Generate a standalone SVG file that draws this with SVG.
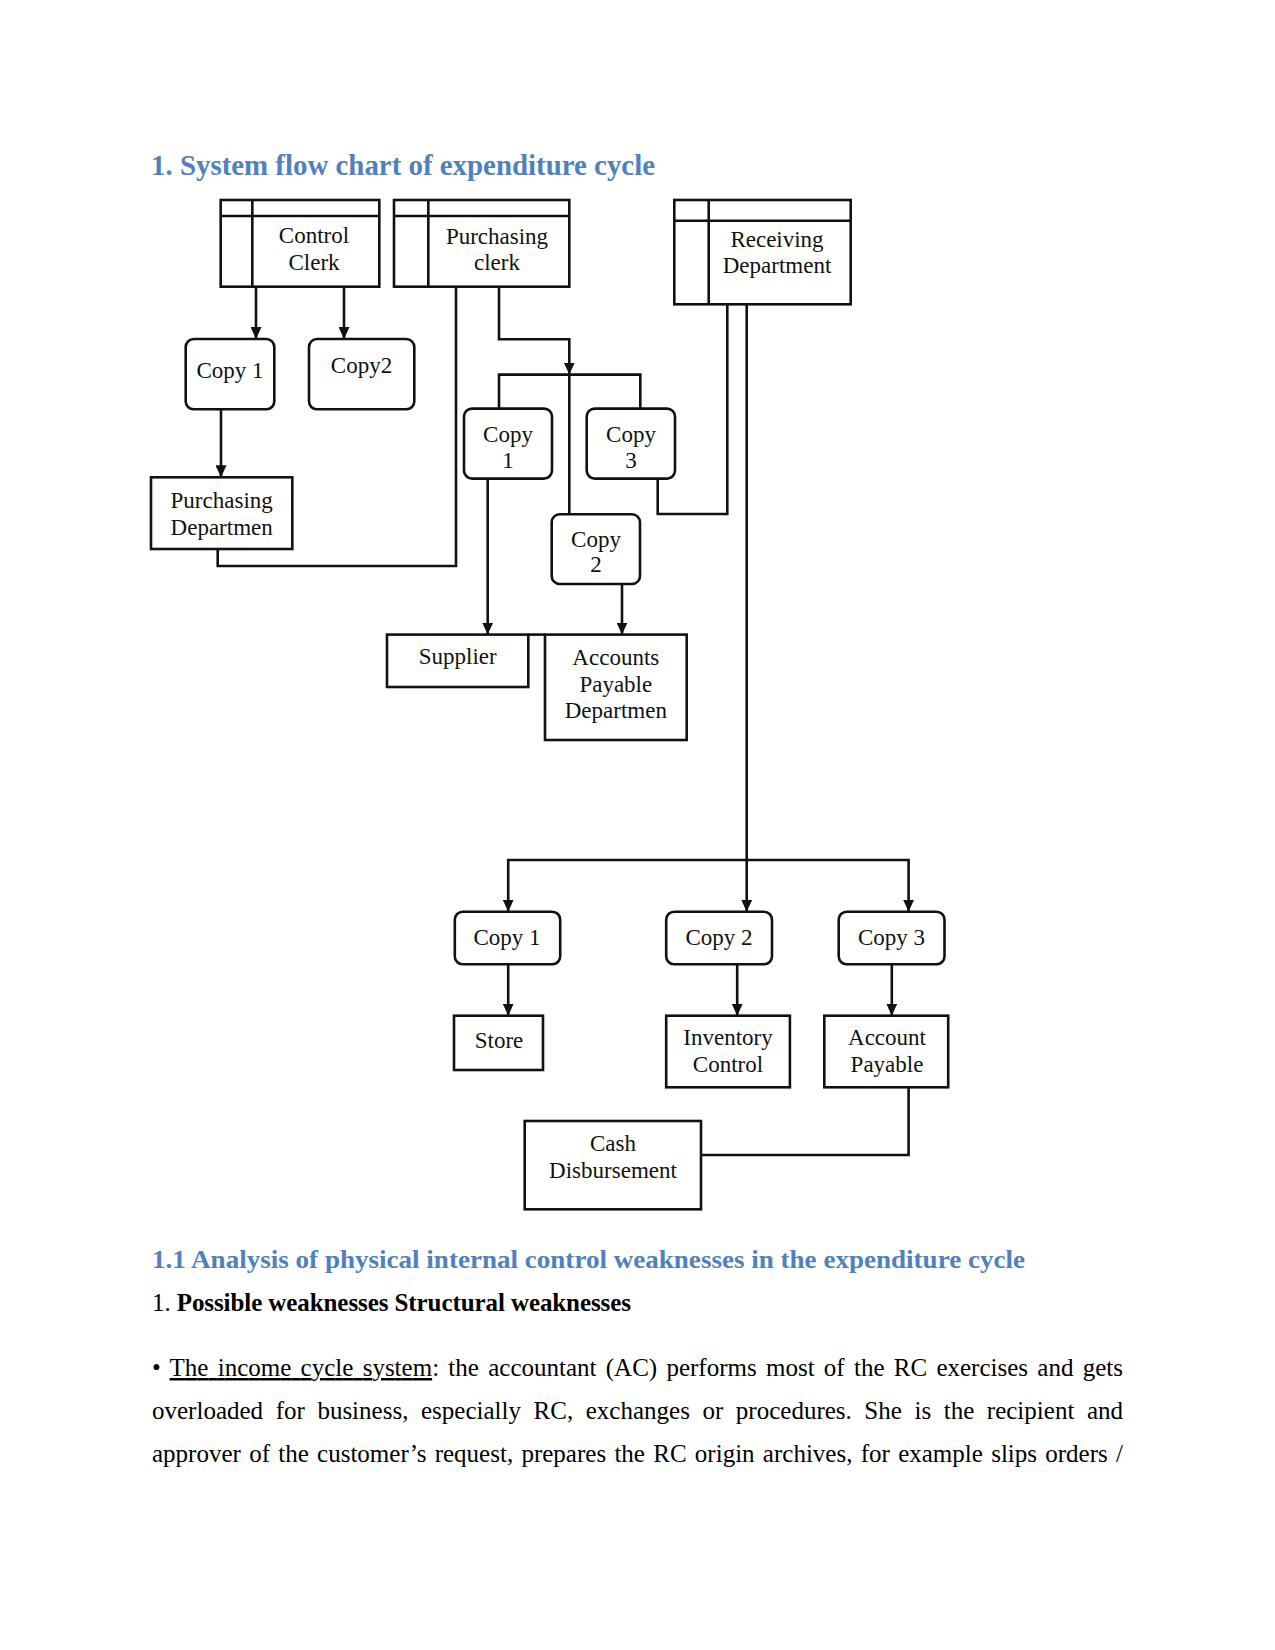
<svg xmlns="http://www.w3.org/2000/svg" width="1275" height="1650" viewBox="0 0 1275 1650">
<defs>
<marker id="ah" viewBox="0 0 12 11" refX="12" refY="5.5" markerUnits="userSpaceOnUse" markerWidth="12" markerHeight="11" orient="auto"><path d="M0,0 L12,5.5 L0,11 z" fill="#111"/></marker>
</defs>
<style>
.bx{fill:#fff;stroke:#111;stroke-width:2.6}
.ln{fill:none;stroke:#111;stroke-width:2.6}
.ar{fill:none;stroke:#111;stroke-width:2.6;marker-end:url(#ah)}
.t{font-family:"Liberation Serif","Times New Roman",serif;font-size:23px;fill:#111;text-anchor:middle}
.h{font-family:"Liberation Serif","Times New Roman",serif;font-weight:bold;fill:#4f81bd}
.b{font-family:"Liberation Serif","Times New Roman",serif;font-size:25px;fill:#000}
</style>
<rect width="1275" height="1650" fill="#fff"/>
<text class="h" x="151" y="175" font-size="29" textLength="504" lengthAdjust="spacingAndGlyphs">1. System flow chart of expenditure cycle</text>

<g id="connectors">
<path class="ar" d="M256,286.7 V339"/>
<path class="ar" d="M344,286.7 V339"/>
<path class="ar" d="M221,409.3 V477.3"/>
<path class="ln" d="M217.7,549 V566 H456 V286.7"/>
<path class="ar" d="M499,286.7 V339.3 H569.3 V374.6"/>
<path class="ln" d="M499,408.6 V374.6 H640.3 V408.6"/>
<path class="ln" d="M569.3,374.6 V514.3"/>
<path class="ln" d="M657.7,478.6 V514 H727.3 V304.3"/>
<path class="ar" d="M487.7,478.6 V634.6"/>
<path class="ar" d="M622,584 V634.6"/>
<path class="ln" d="M528.3,634.6 H545"/>
<path class="ar" d="M746.7,304.3 V911.7"/>
<path class="ar" d="M746.7,860 H508.2 V911.7"/>
<path class="ar" d="M746.7,860 H908.6 V911.7"/>
<path class="ar" d="M508.2,964.3 V1015.7"/>
<path class="ar" d="M737.2,964.3 V1015.7"/>
<path class="ar" d="M891.8,964.3 V1015.7"/>
<path class="ln" d="M908.6,1087.3 V1155 H701"/>
</g>

<g id="control-clerk">
<rect class="bx" x="220.7" y="200" width="158.6" height="86.7"/>
<path class="ln" d="M220.7,216 H379.3 M252.3,200 V286.7"/>
<text class="t" x="314" y="243.3">Control</text>
<text class="t" x="314" y="270">Clerk</text>
</g>
<g id="purchasing-clerk">
<rect class="bx" x="394" y="200" width="175.3" height="86.7"/>
<path class="ln" d="M394,216 H569.3 M428.3,200 V286.7"/>
<text class="t" x="497" y="244">Purchasing</text>
<text class="t" x="497" y="270">clerk</text>
</g>
<g id="receiving-department">
<rect class="bx" x="674.3" y="200" width="176.4" height="104.3"/>
<path class="ln" d="M674.3,220.7 H850.7 M708.7,200 V304.3"/>
<text class="t" x="777" y="247">Receiving</text>
<text class="t" x="777" y="273">Department</text>
</g>
<g id="cc-copy1">
<rect class="bx" x="185.7" y="339" width="88.6" height="70.3" rx="8"/>
<text class="t" x="230" y="378">Copy 1</text>
</g>
<g id="cc-copy2">
<rect class="bx" x="309" y="339" width="105.3" height="70.3" rx="8"/>
<text class="t" x="361.5" y="372.7">Copy2</text>
</g>
<g id="purchasing-department">
<rect class="bx" x="151" y="477.3" width="141.3" height="71.7"/>
<text class="t" x="221.7" y="508">Purchasing</text>
<text class="t" x="221.7" y="535">Departmen</text>
</g>
<g id="pc-copy1">
<rect class="bx" x="464" y="408.6" width="88" height="70" rx="8"/>
<text class="t" x="508" y="442">Copy</text>
<text class="t" x="508" y="468">1</text>
</g>
<g id="pc-copy3">
<rect class="bx" x="586.7" y="408.6" width="88.3" height="70" rx="8"/>
<text class="t" x="631" y="442">Copy</text>
<text class="t" x="631" y="468">3</text>
</g>
<g id="pc-copy2">
<rect class="bx" x="551.7" y="514.3" width="88.3" height="69.7" rx="8"/>
<text class="t" x="596" y="547">Copy</text>
<text class="t" x="596" y="572">2</text>
</g>
<g id="supplier">
<rect class="bx" x="387" y="634.6" width="141.3" height="52.4"/>
<text class="t" x="457.7" y="664">Supplier</text>
</g>
<g id="accounts-payable-department">
<rect class="bx" x="545" y="634.6" width="141.7" height="105.4"/>
<text class="t" x="615.8" y="665">Accounts</text>
<text class="t" x="615.8" y="691.5">Payable</text>
<text class="t" x="615.8" y="718">Departmen</text>
</g>
<g id="rd-copy1">
<rect class="bx" x="454.8" y="911.7" width="105.4" height="52.6" rx="8"/>
<text class="t" x="507" y="945">Copy 1</text>
</g>
<g id="rd-copy2">
<rect class="bx" x="666.2" y="911.7" width="105.8" height="52.6" rx="8"/>
<text class="t" x="719" y="945">Copy 2</text>
</g>
<g id="rd-copy3">
<rect class="bx" x="838.7" y="911.7" width="105.8" height="52.6" rx="8"/>
<text class="t" x="891.5" y="945">Copy 3</text>
</g>
<g id="store">
<rect class="bx" x="454" y="1015.7" width="89" height="54.3"/>
<text class="t" x="499" y="1048">Store</text>
</g>
<g id="inventory-control">
<rect class="bx" x="666.2" y="1015.7" width="123.7" height="71.6"/>
<text class="t" x="728" y="1045">Inventory</text>
<text class="t" x="728" y="1072">Control</text>
</g>
<g id="account-payable">
<rect class="bx" x="824.3" y="1015.7" width="123.9" height="71.6"/>
<text class="t" x="887" y="1045">Account</text>
<text class="t" x="887" y="1072">Payable</text>
</g>
<g id="cash-disbursement">
<rect class="bx" x="524.7" y="1121" width="176.3" height="88.3"/>
<text class="t" x="613" y="1151">Cash</text>
<text class="t" x="613" y="1178">Disbursement</text>
</g>

<text class="h" x="152" y="1268" font-size="25" textLength="873" lengthAdjust="spacingAndGlyphs">1.1 Analysis of physical internal control weaknesses in the expenditure cycle</text>
<text class="b" x="152" y="1311" textLength="479" lengthAdjust="spacing">1. <tspan font-weight="bold">Possible weaknesses Structural weaknesses</tspan></text>
<text class="b" x="152" y="1376" word-spacing="3" textLength="971" lengthAdjust="spacing">• <tspan text-decoration="underline">The income cycle system</tspan>: the accountant (AC) performs most of the RC exercises and gets</text>
<text class="b" x="152" y="1419" word-spacing="6.3" textLength="971" lengthAdjust="spacing">overloaded for business, especially RC, exchanges or procedures. She is the recipient and</text>
<text class="b" x="152" y="1462" word-spacing="2" textLength="971" lengthAdjust="spacing">approver of the customer’s request, prepares the RC origin archives, for example slips orders /</text>
</svg>
